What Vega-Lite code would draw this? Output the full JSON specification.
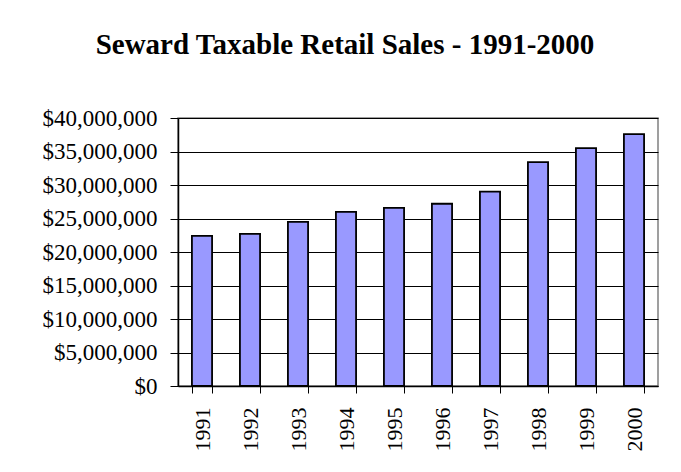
{
  "$schema": "https://vega.github.io/schema/vega-lite/v6.json",
  "width": 480,
  "height": 268,
  "autosize": "none",
  "padding": {"left": 178, "top": 118, "right": 23, "bottom": 86},
  "background": "white",
  "title": {
    "text": "Seward Taxable Retail Sales - 1991-2000",
    "font": "Liberation Serif",
    "fontSize": 29,
    "fontWeight": "bold",
    "color": "black",
    "anchor": "middle",
    "frame": "group",
    "baseline": "alphabetic",
    "dx": -73,
    "offset": 24
  },
  "data": {
    "values": [
      {"year": "1991", "sales": 22400000},
      {"year": "1992", "sales": 22700000},
      {"year": "1993", "sales": 24500000},
      {"year": "1994", "sales": 26000000},
      {"year": "1995", "sales": 26600000},
      {"year": "1996", "sales": 27200000},
      {"year": "1997", "sales": 29000000},
      {"year": "1998", "sales": 33400000},
      {"year": "1999", "sales": 35500000},
      {"year": "2000", "sales": 37600000}
    ]
  },
  "mark": {"type": "bar", "fill": "#9999FF", "stroke": "black", "strokeWidth": 1.8},
  "encoding": {
    "x": {
      "field": "year",
      "type": "ordinal",
      "title": null,
      "scale": {"paddingInner": 0.58, "paddingOuter": 0.29},
      "axis": {
        "labelAngle": -90,
        "labelAlign": "right",
        "labelBaseline": "middle",
        "labelFont": "Liberation Serif",
        "labelFontSize": 22,
        "labelColor": "black",
        "labelPadding": 14,
        "tickBand": "extent",
        "tickSize": 7,
        "tickColor": "black",
        "domainColor": "black",
        "domainWidth": 1.5
      }
    },
    "y": {
      "field": "sales",
      "type": "quantitative",
      "title": null,
      "scale": {"domain": [0, 40000000], "nice": false},
      "axis": {
        "values": [0, 5000000, 10000000, 15000000, 20000000, 25000000, 30000000, 35000000, 40000000],
        "format": "$,.0f",
        "labelFont": "Liberation Serif",
        "labelFontSize": 23,
        "labelColor": "black",
        "labelPadding": 13,
        "tickSize": 8,
        "tickColor": "black",
        "domainColor": "black",
        "domainWidth": 1.5,
        "grid": true,
        "gridColor": "black",
        "gridWidth": 1,
        "gridOpacity": 1
      }
    }
  },
  "config": {
    "view": {"stroke": "#808080", "strokeWidth": 1.5}
  }
}
